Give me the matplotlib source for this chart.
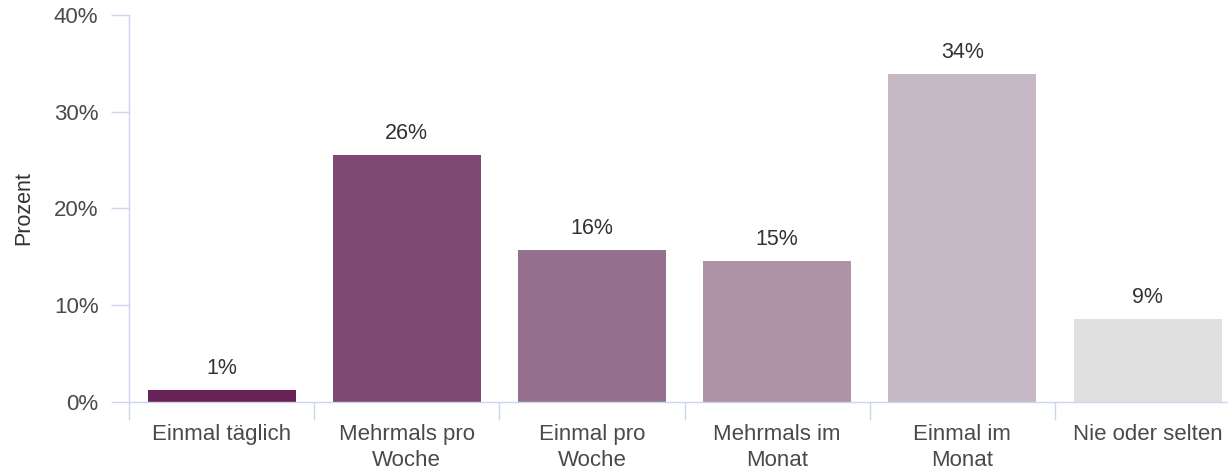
import matplotlib.pyplot as plt
import numpy as np
from matplotlib.ticker import FixedLocator, FuncFormatter

plt.rcParams["font.family"] = ["Liberation Sans", "DejaVu Sans"]

# Survey: how often ... (share of respondents)
categories = [
    "Einmal täglich",
    "Mehrmals pro\nWoche",
    "Einmal pro\nWoche",
    "Mehrmals im\nMonat",
    "Einmal im\nMonat",
    "Nie oder selten",
]
shares = [1.2, 25.5, 15.7, 14.6, 33.9, 8.6]
bar_colors = ["#6a2359", "#7e4a75", "#96718f", "#ad92a8", "#c6b8c4", "#e0e0e0"]
y_ticks = [0, 10, 20, 30, 40]

axis_color = "#ccd6eb"
label_color = "#4a4a4a"

fig = plt.figure(figsize=(12.28, 4.73), dpi=100)
# the last category is clipped at the right edge
ax = fig.add_axes([129 / 1228, 71 / 473, 6 * 185.2 / 1228, 387 / 473])

x = np.arange(len(categories))
bars = ax.bar(x, shares, width=0.8, color=bar_colors, zorder=2)

for rect, val in zip(bars, shares):
    ax.annotate(
        f"{val:.0f}%",
        xy=(rect.get_x() + rect.get_width() / 2, rect.get_height()),
        xytext=(0, 8),
        textcoords="offset points",
        ha="center",
        va="bottom",
        fontsize=15.5,
        color="#333333",
    )

ax.set_xlim(-0.5, len(categories) - 0.5)
ax.set_ylim(0, 40)

ax.yaxis.set_major_locator(FixedLocator(y_ticks))
ax.yaxis.set_major_formatter(FuncFormatter(lambda v, _: f"{v:.0f}%"))
ax.tick_params(axis="y", direction="out", length=13, width=1, color=axis_color,
               labelsize=16, labelcolor=label_color, pad=9)

# category labels at the centres, tick marks between the bars
ax.set_xticks(x)
ax.set_xticklabels(categories, linespacing=1.3)
ax.set_xticks(np.arange(len(categories)) - 0.5, minor=True)
ax.tick_params(axis="x", which="major", length=0, labelsize=16,
               labelcolor=label_color, pad=16)
ax.tick_params(axis="x", which="minor", direction="out", length=13, width=1,
               color=axis_color)

for side in ["top", "right"]:
    ax.spines[side].set_visible(False)
for side in ["left", "bottom"]:
    ax.spines[side].set_color(axis_color)
    ax.spines[side].set_linewidth(1)

ax.set_ylabel("Prozent", fontsize=15.5, color="#333333", labelpad=14)

fig.savefig("out.png", dpi=100)
plt.close(fig)
